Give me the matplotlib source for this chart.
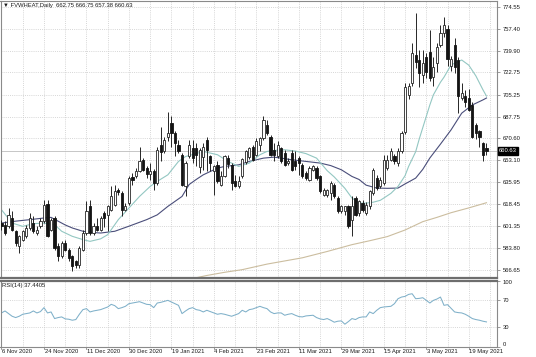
import matplotlib
matplotlib.use('Agg')
import matplotlib.pyplot as plt
import matplotlib.transforms as mtransforms
import numpy as np

# ---------------- data ----------------
opens = [603.5, 602.2, 600.9, 607.5, 597.0, 585.1, 590.4, 593.0, 599.6, 603.5,
         595.6, 600.9, 604.9, 618.6, 598.3, 607.5, 585.1, 577.2, 587.7, 582.5,
         577.2, 573.2, 570.6, 582.5, 595.6, 616.7, 595.6, 600.9, 598.3, 611.4,
         610.1, 614.1, 618.0, 629.9, 627.3, 614.1, 619.3, 639.9, 641.0, 644.4,
         653.6, 647.0, 642.5, 645.0, 635.2, 665.4, 660.2, 672.0, 682.6, 674.7,
         665.4, 657.6, 632.5, 656.2, 662.8, 662.8, 648.0, 656.0, 669.4, 656.2,
         644.4, 649.6, 633.8, 641.0, 655.0, 649.6, 636.5, 632.5, 640.4, 652.0,
         656.0, 664.1, 657.6, 665.0, 670.7, 681.3, 672.0, 661.5, 656.2, 662.8,
         658.9, 651.0, 658.9, 652.3, 654.9, 649.6, 643.1, 637.8, 645.7, 647.0,
         640.4, 625.9, 625.9, 627.3, 633.8, 623.3, 612.8, 612.8, 616.7, 606.2,
         623.3, 611.4, 619.3, 611.4, 616.7, 627.3, 639.1, 632.5, 635.2, 647.0,
         653.6, 656.2, 651.0, 660.2, 675.9, 705.0, 714.2, 736.6, 732.6, 720.8,
         735.3, 739.2, 719.5, 730.0, 744.5, 753.7, 757.0, 728.0, 744.5, 732.6,
         702.3, 703.7, 702.3, 697.0, 681.3, 676.0, 666.8, 662.75]
highs = [606.2, 604.9, 615.4, 612.8, 598.3, 594.3, 598.3, 602.2, 611.4, 608.8,
         600.9, 607.5, 622.0, 622.0, 607.5, 608.8, 587.7, 589.0, 590.4, 583.8,
         578.5, 574.6, 585.1, 598.3, 620.7, 622.0, 603.5, 607.5, 609.0, 613.0,
         618.0, 632.5, 633.8, 631.2, 628.6, 619.3, 640.4, 643.1, 647.0, 664.1,
         654.9, 648.3, 651.0, 646.0, 664.1, 679.9, 672.0, 691.8, 687.9, 676.0,
         669.4, 658.9, 652.3, 669.4, 669.4, 666.8, 662.8, 666.8, 672.0, 657.6,
         649.6, 652.3, 644.4, 657.6, 657.0, 651.0, 641.7, 640.4, 654.9, 661.5,
         664.1, 665.4, 670.7, 672.0, 687.9, 685.2, 673.4, 666.8, 668.1, 664.1,
         661.5, 654.9, 661.5, 660.2, 656.2, 651.0, 644.4, 648.3, 649.6, 648.3,
         641.7, 631.2, 630.4, 636.5, 635.2, 624.6, 618.0, 617.3, 618.0, 624.6,
         624.6, 622.0, 622.0, 620.0, 630.0, 647.0, 641.7, 640.0, 657.0, 657.6,
         662.8, 658.0, 662.8, 676.0, 714.0, 714.0, 745.8, 769.5, 740.6, 740.6,
         738.0, 756.4, 735.0, 745.8, 760.3, 766.9, 760.0, 736.0, 750.0, 735.0,
         714.0, 709.0, 710.0, 699.0, 683.0, 677.0, 668.0, 666.75]
lows = [598.3, 593.8, 599.6, 597.0, 585.1, 579.8, 589.0, 591.7, 598.3, 595.6,
        594.3, 599.6, 603.5, 592.2, 597.0, 582.5, 573.2, 575.9, 581.2, 573.2,
        565.3, 568.0, 568.0, 581.2, 594.3, 594.3, 594.3, 597.0, 597.0, 600.0,
        597.0, 612.8, 616.7, 626.0, 608.8, 612.8, 618.0, 633.8, 639.1, 643.6,
        644.4, 639.1, 637.8, 629.9, 633.8, 652.3, 658.9, 668.1, 664.1, 656.2,
        658.9, 632.5, 624.6, 654.9, 651.0, 648.3, 643.1, 645.7, 644.4, 644.4,
        625.9, 635.2, 632.5, 640.0, 647.0, 629.9, 632.0, 631.2, 639.1, 650.0,
        654.0, 652.3, 656.2, 660.2, 669.4, 673.4, 656.2, 652.3, 654.9, 651.0,
        648.3, 649.6, 644.4, 645.7, 641.7, 639.1, 637.8, 636.5, 644.4, 637.8,
        627.3, 624.6, 624.1, 622.0, 623.3, 611.4, 611.4, 610.1, 599.6, 593.0,
        608.8, 609.0, 612.0, 609.5, 615.0, 626.0, 630.0, 631.0, 634.0, 645.7,
        652.3, 650.0, 649.0, 659.0, 674.0, 702.0, 712.0, 726.0, 711.6, 714.2,
        718.0, 716.0, 712.0, 723.4, 743.2, 751.1, 728.0, 724.0, 722.0, 690.5,
        701.0, 695.0, 692.0, 671.0, 670.0, 664.0, 652.3, 657.38]
closes = [600.9, 595.6, 610.1, 598.3, 587.7, 593.0, 597.0, 599.6, 607.5, 597.0,
          598.3, 604.9, 618.0, 593.0, 606.2, 583.8, 577.2, 587.7, 582.5, 575.9,
          569.3, 570.6, 583.8, 595.6, 612.8, 595.6, 600.9, 598.3, 607.5, 607.5,
          616.7, 624.6, 628.6, 627.8, 614.1, 617.3, 639.1, 637.8, 644.4, 652.3,
          645.7, 642.5, 645.0, 635.2, 661.5, 659.4, 669.4, 674.7, 674.7, 666.8,
          660.2, 633.8, 651.0, 665.4, 654.9, 657.6, 661.5, 664.1, 661.5, 651.0,
          648.3, 636.5, 640.4, 656.2, 650.0, 635.2, 632.5, 636.5, 654.1, 660.2,
          662.8, 653.6, 668.1, 670.7, 685.2, 674.7, 657.6, 657.6, 665.4, 652.3,
          649.6, 652.8, 645.7, 648.3, 651.0, 640.4, 639.1, 647.0, 648.3, 639.1,
          628.6, 629.9, 629.4, 635.2, 624.6, 612.8, 616.7, 616.7, 600.9, 616.7,
          610.1, 620.7, 614.1, 618.0, 628.6, 645.7, 631.2, 637.8, 653.6, 653.6,
          660.2, 652.3, 660.2, 674.7, 711.6, 712.0, 737.9, 731.3, 722.1, 730.0,
          723.4, 718.2, 727.4, 743.2, 753.7, 760.3, 733.0, 733.5, 727.4, 703.7,
          706.3, 699.7, 693.1, 672.0, 674.7, 672.0, 657.6, 660.63]

# moving averages (bar index, value)
fast_ma_idx = [0, 3, 6, 9, 12, 15, 17, 20, 23, 25, 28, 30, 33, 36, 39, 42, 44, 47, 50,
               52, 55, 57, 61, 64, 67, 70, 73, 75, 77, 80, 83, 86, 89, 92, 94, 96, 97,
               99, 101, 103, 105, 107, 108, 110, 112, 114, 115, 117, 118, 119, 121,
               122, 124, 125, 127, 130, 132, 134, 136, 137]
fast_ma_val = [614.0, 603.5, 600.9, 603.0, 603.5, 602.2, 597.0, 593.0, 590.4, 589.0,
               591.0, 594.3, 606.2, 615.4, 624.6, 632.5, 636.5, 641.7, 652.3, 656.2,
               658.5, 660.2, 657.6, 652.3, 648.3, 651.0, 657.6, 660.2, 661.0, 661.5,
               660.5, 658.5, 654.9, 645.0, 640.0, 634.0, 631.0, 623.3, 619.3, 619.3,
               620.0, 621.5, 623.3, 627.0, 632.5, 641.0, 648.3, 660.0, 670.0, 679.0,
               697.0, 705.0, 715.0, 719.0, 728.7, 732.6, 728.5, 720.0, 709.0, 704.0]
slow_ma_idx = [0, 4, 8, 12, 14, 16, 18, 20, 23, 26, 28, 32, 36, 41, 44, 47, 51, 53, 55,
               57, 61, 63, 67, 70, 74, 77, 79, 82, 86, 90, 93, 96, 99, 101, 103, 106,
               109, 112, 114, 115, 117, 119, 121, 124, 127, 130, 133, 136, 137]
slow_ma_val = [603.5, 605.0, 606.2, 607.5, 608.0, 605.0, 602.0, 599.6, 597.0, 596.0,
               595.6, 597.0, 601.0, 606.2, 610.0, 616.7, 624.6, 634.0, 638.0, 641.7,
               647.0, 648.3, 649.6, 652.3, 654.9, 655.7, 654.9, 653.6, 652.3, 651.0,
               649.0, 645.7, 640.4, 638.0, 633.5, 631.2, 631.0, 631.2, 634.5, 636.0,
               639.1, 646.0, 655.0, 666.0, 677.3, 690.5, 697.0, 701.0, 702.5]
long_ma_idx = [50, 53, 58, 63, 68, 75, 85, 92, 99, 104, 109, 114, 119, 123, 127, 132, 137]
long_ma_val = [556.5, 559.0, 562.0, 564.5, 566.6, 571.0, 576.0, 581.0, 586.4, 589.5,
               592.8, 598.0, 604.6, 608.0, 611.7, 615.5, 619.6]

rsi_vals = [51, 54, 50, 46, 44, 46, 49, 50, 51, 54, 51, 53, 59, 51, 52.5, 42.5, 44, 45,
            42, 41.5, 40, 41, 49, 56, 57.5, 52.5, 54, 55, 56, 58, 60, 64, 62, 57.5, 59,
            61, 65, 66, 67, 68, 66, 64, 63.5, 59, 66, 67, 68.5, 70, 67.5, 65, 62.5, 50,
            54, 57.5, 59, 56, 55, 52.5, 55, 53, 51, 49, 50, 49, 47.5, 46, 48, 50, 55,
            52.5, 56, 57, 59, 61, 59, 57.5, 52.5, 50, 51, 51, 47.5, 49, 50, 47.5, 45.5,
            45, 46.5, 47, 47.5, 44, 42, 41, 42.5, 40, 37, 38.5, 39, 34, 38, 42.5, 41,
            44, 45, 45, 52.5, 50, 55, 59, 60, 60.5, 61, 65, 72.5, 75, 76, 79, 80, 72.5,
            73, 74, 70, 66, 70, 72, 75, 62.5, 63.5, 58, 52.5, 51.5, 51, 49, 46, 42.5,
            41, 40, 38.5, 37.44]

price_ticks = [774.55, 757.40, 739.90, 722.75, 705.25, 687.75, 670.60, 653.10,
               635.95, 618.45, 601.35, 583.80, 566.65]
date_idx = [0, 12, 24, 36, 48, 60, 72, 84, 96, 108, 120, 132]
date_labels = ['6 Nov 2020', '24 Nov 2020', '11 Dec 2020', '30 Dec 2020',
               '19 Jan 2021', '4 Feb 2021', '23 Feb 2021', '11 Mar 2021',
               '29 Mar 2021', '15 Apr 2021', '3 May 2021', '19 May 2021']
header = '\u25bc FVWHEAT,Daily  662.75 666.75 657.38 660.63'
rsi_label = 'RSI(14) 37.4405'
last_price = 660.63

# ---------------- layout ----------------
FS = 4.2
FAM = ['Liberation Sans', 'DejaVu Sans']
plt.rcParams['font.family'] = FAM
TXT = '#1a1a1a'
GRID = '#c9c9c9'
FRAME = '#8a8a8a'

W, H = 536, 357
fig = plt.figure(figsize=(W / 100, H / 100), dpi=100)
fig.patch.set_facecolor('white')


def rect(x0, y0, x1, y1):
    return [x0 / W, 1 - y1 / H, (x1 - x0) / W, (y1 - y0) / H]


ax = fig.add_axes(rect(0.5, 0.5, 497, 278))
axr = fig.add_axes(rect(0.5, 280.5, 497, 347))

n = len(closes)
x = np.arange(n)
o = np.array(opens); c = np.array(closes)
hi = np.array(highs); lo = np.array(lows)
up = c >= o

xlim = (-0.28, 139.97)

# grid
for a in (ax, axr):
    a.set_xlim(*xlim)
    a.set_xticks(np.arange(0, 140, 6))
    a.grid(True, color=GRID, linestyle=(0, (1.2, 1.6)), linewidth=0.55)
    a.set_axisbelow(True)
    for s in a.spines.values():
        s.set_color(FRAME)
        s.set_linewidth(0.8)

# bid line
ax.axhline(last_price, color='#bdbdbd', linewidth=0.6, zorder=1)

# moving averages
ax.plot(long_ma_idx, long_ma_val, color='#cbbd9f', linewidth=0.8, zorder=2)
ax.plot(slow_ma_idx, slow_ma_val, color='#4a4e7a', linewidth=0.8, zorder=2)
ax.plot(fast_ma_idx, fast_ma_val, color='#93c7c2', linewidth=0.8, zorder=2)

# candles
ax.vlines(x, lo, hi, color='#262626', linewidth=0.7, zorder=3)
bw = 0.62
body_bottom = np.minimum(o, c)
body_h = np.maximum(np.abs(c - o), 0.4)
ax.bar(x[up], body_h[up], bw, bottom=body_bottom[up], color='white',
       edgecolor='#262626', linewidth=0.6, zorder=4)
ax.bar(x[~up], body_h[~up], bw, bottom=body_bottom[~up], color='#141414',
       edgecolor='#141414', linewidth=0.6, zorder=4)

ax.set_ylim(560.0, 779.7)
ax.yaxis.tick_right()
ax.set_yticks(price_ticks)
ax.set_yticklabels([f'{v:.2f}' for v in price_ticks])
ax.tick_params(axis='y', labelsize=FS, length=2.5, width=0.6, pad=1.8,
               colors=TXT, direction='out')
ax.tick_params(axis='y', color=FRAME)
ax.tick_params(axis='x', length=0, labelbottom=False)
ax.spines['bottom'].set_linewidth(1.6)
ax.spines['bottom'].set_color('#6e6e6e')

ax.text(0.006, 0.992, header, transform=ax.transAxes, ha='left', va='top',
        fontsize=FS, color=TXT, family=FAM)

bl = mtransforms.blended_transform_factory(ax.transAxes, ax.transData)
ax.text(1.004, last_price, f'{last_price:.2f}', transform=bl, ha='left', va='center',
        fontsize=FS, color='white', clip_on=False, zorder=10,
        bbox=dict(facecolor='black', edgecolor='black', pad=0.9))

# RSI panel
axr.plot(x, rsi_vals, color='#7fb0c9', linewidth=0.75)
axr.set_ylim(-0.45, 100)
axr.yaxis.tick_right()
axr.set_yticks([0, 30, 70, 100])
axr.set_yticklabels(['0', '30', '70', '100'])
labs = axr.get_yticklabels()
labs[0].set_va('bottom')
labs[3].set_va('top')
axr.tick_params(axis='y', labelsize=FS, length=2.5, width=0.6, pad=1.8,
                colors=TXT, direction='out')
axr.tick_params(axis='y', color=FRAME)
axr.tick_params(axis='x', length=0, labelbottom=False)
axr.spines['top'].set_linewidth(1.6)
axr.spines['top'].set_color('#6e6e6e')
axr.text(0.004, 0.96, rsi_label, transform=axr.transAxes, ha='left', va='top',
         fontsize=FS, color=TXT)

# date labels
bt = mtransforms.blended_transform_factory(axr.transData, axr.transAxes)
for i, lab in zip(date_idx, date_labels):
    axr.plot([i, i], [0, -0.035], transform=bt, color=FRAME, linewidth=0.6,
             clip_on=False)
    axr.text(i + 0.15, -0.065, lab, transform=bt, ha='left', va='center',
             fontsize=FS, color=TXT, clip_on=False)

fig.savefig('out.png', dpi=100, facecolor='white')
